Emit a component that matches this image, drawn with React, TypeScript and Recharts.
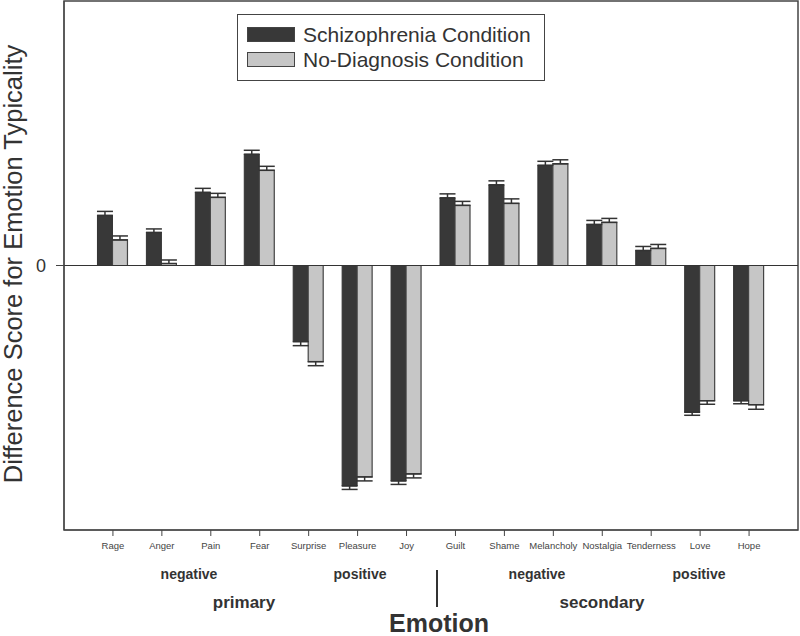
import React from "react";
import {
  BarChart,
  Bar,
  XAxis,
  YAxis,
  ErrorBar,
  ReferenceLine,
  ReferenceArea,
  Legend,
} from "recharts";

const emotions = [
  "Rage", "Anger", "Pain", "Fear", "Surprise", "Pleasure", "Joy",
  "Guilt", "Shame", "Melancholy", "Nostalgia", "Tenderness", "Love", "Hope",
];
const schizophrenia = [0.5, 0.33, 0.73, 1.11, -0.76, -2.2, -2.15, 0.675, 0.805, 1.0, 0.41, 0.15, -1.465, -1.35];
const schizophreniaErr = [0.04, 0.035, 0.04, 0.04, 0.04, 0.035, 0.035, 0.04, 0.04, 0.04, 0.04, 0.04, 0.03, 0.03];
const noDiagnosis = [0.255, 0.02, 0.68, 0.95, -0.96, -2.11, -2.08, 0.6, 0.62, 1.015, 0.43, 0.17, -1.35, -1.39];
const noDiagnosisErr = [0.04, 0.035, 0.04, 0.04, 0.04, 0.04, 0.04, 0.04, 0.045, 0.04, 0.04, 0.04, 0.035, 0.045];
const yTicks = [0];

// emotions sit at positions 1..14 on a 0..15 axis (empty slot at each end)
const xPositions = emotions.map((_, i) => i + 1);
const X_DOMAIN: [number, number] = [0, emotions.length + 1];
const Y_DOMAIN: [number, number] = [-2.64, 2.64];

const data = emotions.map((name, i) => ({
  name,
  pos: xPositions[i],
  sz: schizophrenia[i],
  szErr: schizophreniaErr[i],
  nd: noDiagnosis[i],
  ndErr: noDiagnosisErr[i],
}));

// error bars only on the outer side of each bar
const oneSided = (v: number, e: number) => (v >= 0 ? [0, e] : [e, 0]);

const FONT = "'Liberation Sans', Arial, sans-serif";
const DARK = "#383838";
const LIGHT = "#c6c6c6";

const LegendBox = () => (
  <div
    style={{
      border: "1px solid #444",
      background: "#fff",
      width: 308,
      height: 67,
      boxSizing: "border-box",
      padding: "7px 0 0 9px",
      fontFamily: FONT,
      fontSize: 21,
      color: "#333",
    }}
  >
    {[
      { label: "Schizophrenia Condition", fill: DARK },
      { label: "No-Diagnosis Condition", fill: LIGHT },
    ].map((it) => (
      <div key={it.label} style={{ display: "flex", alignItems: "center", height: 25 }}>
        <span
          style={{
            display: "inline-block",
            width: 46,
            height: 13,
            background: it.fill,
            border: "1px solid #444",
            marginRight: 8,
          }}
        />
        <span>{it.label}</span>
      </div>
    ))}
  </div>
);

export default function App() {
  return (
    <div style={{ position: "absolute", left: 0, top: 0, width: 800, height: 636, background: "#fff" }}>
      <BarChart
        width={800}
        height={636}
        data={data}
        margin={{ top: 1, right: 2, bottom: 76, left: 0 }}
        barGap={0}
        barSize={15}
      >
        <XAxis
          dataKey="pos"
          type="number"
          domain={X_DOMAIN}
          ticks={xPositions}
          tickFormatter={(v: number) => emotions[v - 1] ?? ""}
          height={30}
          stroke="#444"
          tickSize={6}
          tickMargin={6}
          interval={0}
          tick={{ fontSize: 9.5, fill: "#444", fontFamily: FONT }}
        />
        <YAxis
          domain={Y_DOMAIN}
          ticks={yTicks}
          width={64}
          stroke="#444"
          tickSize={8}
          tickMargin={10}
          tick={{ fontSize: 18, fill: "#333", fontFamily: FONT }}
        />
        <ReferenceArea
          x1={X_DOMAIN[0]}
          x2={X_DOMAIN[1]}
          y1={Y_DOMAIN[0]}
          y2={Y_DOMAIN[1]}
          fill="none"
          stroke="#444"
          strokeWidth={1.5}
          ifOverflow="visible"
        />
        <ReferenceLine y={0} stroke="#333" strokeWidth={1.2} />
        <Legend
          layout="horizontal"
          verticalAlign="middle"
          align="center"
          wrapperStyle={{ position: "absolute", left: 237, top: 14, width: 308 }}
          content={() => <LegendBox />}
        />
        <Bar dataKey="sz" fill={DARK} stroke="#333" strokeWidth={1} isAnimationActive={false}>
          <ErrorBar
            dataKey={(d: any) => oneSided(d.sz, d.szErr)}
            width={8}
            stroke="#333"
            strokeWidth={1.5}
            isAnimationActive={false}
          />
        </Bar>
        <Bar dataKey="nd" fill={LIGHT} stroke="#444" strokeWidth={1.2} isAnimationActive={false}>
          <ErrorBar
            dataKey={(d: any) => oneSided(d.nd, d.ndErr)}
            width={8}
            stroke="#333"
            strokeWidth={1.5}
            isAnimationActive={false}
          />
        </Bar>
      </BarChart>
      <svg
        width={800}
        height={636}
        style={{ position: "absolute", left: 0, top: 0, pointerEvents: "none" }}
        fontFamily={FONT}
        fill="#333"
      >
        <text
          x={13}
          y={264}
          transform="rotate(-90 13 264)"
          textAnchor="middle"
          dominantBaseline="central"
          fontSize={25.5}
        >
          Difference Score for Emotion Typicality
        </text>
        <g fontWeight="bold" textAnchor="middle" dominantBaseline="central">
          <text x={189} y={574} fontSize={14}>negative</text>
          <text x={360} y={574} fontSize={14}>positive</text>
          <text x={537} y={574} fontSize={14}>negative</text>
          <text x={699} y={574} fontSize={14}>positive</text>
          <text x={244} y={602} fontSize={17}>primary</text>
          <text x={602} y={602} fontSize={17}>secondary</text>
          <text x={439} y={623} fontSize={25}>Emotion</text>
        </g>
        <line x1={437} y1={570} x2={437} y2={607} stroke="#333" strokeWidth={2} />
      </svg>
    </div>
  );
}
